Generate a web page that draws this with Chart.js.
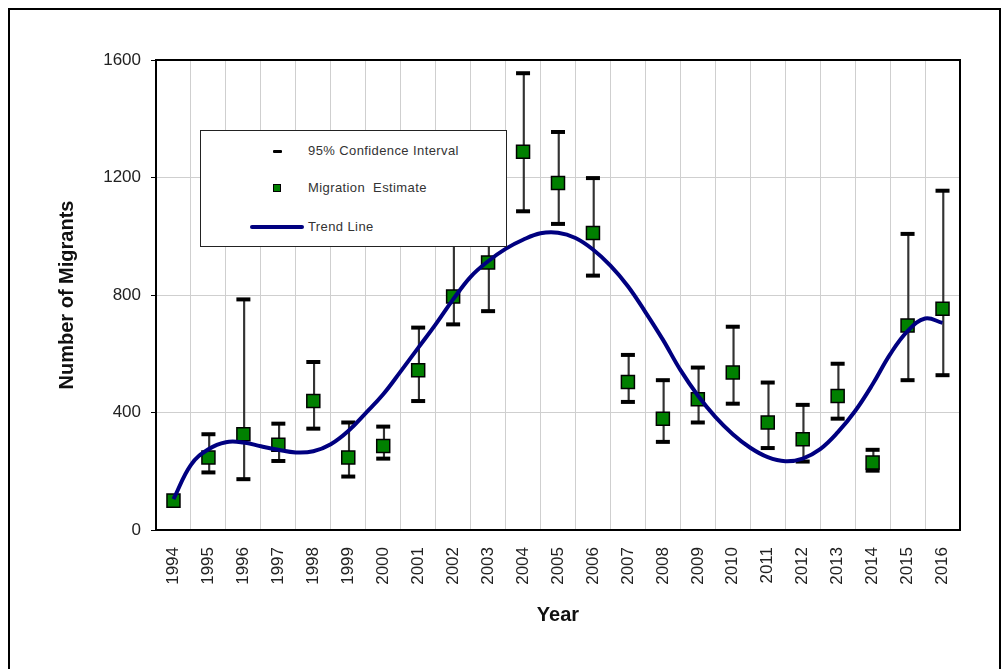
<!DOCTYPE html>
<html lang="en">
<head>
<meta charset="UTF-8" />
<title>Number of Migrants</title>
<script src="https://cdn.jsdelivr.net/npm/chart.js"></script>
<style>
  html, body { margin: 0; padding: 0; background: #fff; overflow: hidden; }
  body { width: 1003px; height: 669px; position: relative; font-family: 'Liberation Sans', Arial, sans-serif; }
  .frame { position: absolute; left: 8px; top: 8px; width: 993px; height: 700px; border: 2px solid #000; box-sizing: border-box; }
  #chart { position: absolute; left: 0; top: 0; }
  .legend { position: absolute; left: 200px; top: 130px; width: 307px; height: 117px; box-sizing: border-box;
            border: 1px solid #222; background: #fff; color: #333; font-size: 13px; letter-spacing: 0.4px; }
  .txt { position: absolute; left: 107px; height: 16px; line-height: 16px; white-space: pre; }
  .dash { position: absolute; left: 72px; top: 19px; width: 9px; height: 3px; background: #000; border-radius: 1px; }
  .square { position: absolute; left: 72px; top: 53px; width: 6px; height: 6px; background: #008000; border: 1px solid #000; }
  .trend { position: absolute; left: 49px; top: 94px; width: 54px; height: 4px; background: #000080; border-radius: 2px; }
</style>
</head>
<body>
  <div class="frame"></div>
  <canvas id="chart" width="1003" height="669"></canvas>
  <div class="legend">
    <div class="dash"></div><div class="txt" style="top:12px">95% Confidence Interval</div>
    <div class="square"></div><div class="txt" style="top:49px">Migration  Estimate</div>
    <div class="trend"></div><div class="txt" style="top:88px">Trend Line</div>
  </div>

  <script>
    const years = ['1994', '1995', '1996', '1997', '1998', '1999', '2000', '2001', '2002', '2003', '2004',
                   '2005', '2006', '2007', '2008', '2009', '2010', '2011', '2012', '2013', '2014', '2015', '2016'];
    const estimate = [100, 247, 326, 290, 439, 247, 286, 544, 795, 911, 1288,
                      1181, 1011, 504, 379, 445, 536, 366, 309, 456, 230, 696, 753];
    const ciLow  = [null, 196, 173, 235, 345, 182, 243, 439, 700, 745, 1085,
                    1042, 866, 436, 300, 366, 430, 279, 233, 379, 202, 510, 527];
    const ciHigh = [null, 326, 785, 362, 572, 366, 352, 689, 1010, 1000, 1555,
                    1355, 1198, 596, 510, 553, 692, 502, 426, 566, 273, 1008, 1155];

    // trend line every half year
    const trendX = [1994, 1994.5, 1995, 1995.5, 1996, 1996.5, 1997, 1997.5, 1998, 1998.5, 1999, 1999.5,
                    2000, 2000.5, 2001, 2001.5, 2002, 2002.5, 2003, 2003.5, 2004, 2004.5, 2005, 2005.5,
                    2006, 2006.5, 2007, 2007.5, 2008, 2008.5, 2009, 2009.5, 2010, 2010.5, 2011, 2011.5,
                    2012, 2012.5, 2013, 2013.5, 2014, 2014.5, 2015, 2015.5, 2016];
    const trendY = [105, 222, 275, 299, 298, 285, 273, 264, 268, 292, 337, 398,
                    462, 540, 620, 700, 785, 862, 915, 957, 988, 1010, 1012, 994,
                    955, 900, 830, 742, 648, 545, 458, 385, 326, 280, 248, 234,
                    243, 275, 332, 405, 496, 598, 677, 720, 705];

    const yTicks = [0, 400, 800, 1200, 1600];

    const font = "'Liberation Sans', Arial, sans-serif";

    const plotFrame = {
      id: 'plotFrame',
      afterDatasetsDraw(chart) {
        const { ctx, chartArea: a } = chart;
        ctx.save();
        ctx.strokeStyle = '#000';
        ctx.lineWidth = 2;
        ctx.strokeRect(a.left, a.top, a.right - a.left, a.bottom - a.top);
        ctx.restore();
      }
    };

    new Chart(document.getElementById('chart'), {
      type: 'bar',
      data: {
        labels: years,
        datasets: [
          {
            type: 'line',
            label: 'Trend Line',
            xAxisID: 'x2',
            data: trendX.map((x, i) => ({ x: x, y: trendY[i] })),
            borderColor: '#000080',
            borderWidth: 4,
            pointRadius: 0,
            tension: 0.4,
            fill: false,
            order: 0
          },
          {
            type: 'line',
            label: 'Migration Estimate',
            data: estimate,
            showLine: false,
            pointStyle: 'rect',
            pointRadius: 9.2,
            pointBackgroundColor: '#008000',
            pointBorderColor: '#000',
            pointBorderWidth: 1.5,
            order: 1
          },
          {
            type: 'line',
            label: 'CI high',
            data: ciHigh,
            showLine: false,
            pointStyle: 'line',
            pointRadius: 7,
            pointBorderColor: '#000',
            pointBorderWidth: 4,
            order: 2
          },
          {
            type: 'line',
            label: 'CI low',
            data: ciLow,
            showLine: false,
            pointStyle: 'line',
            pointRadius: 7,
            pointBorderColor: '#000',
            pointBorderWidth: 4,
            order: 2
          },
          {
            type: 'bar',
            label: '95% Confidence Interval',
            data: ciLow.map((lo, i) => lo == null ? null : [lo, ciHigh[i]]),
            backgroundColor: '#333',
            borderWidth: 0,
            barThickness: 1.5,
            order: 3
          }
        ]
      },
      options: {
        responsive: false,
        animation: false,
        layout: { padding: { left: 50, right: 43, top: 60, bottom: 38 } },
        plugins: {
          legend: { display: false },
          tooltip: { enabled: false }
        },
        scales: {
          x: {
            type: 'category',
            offset: true,
            grid: { offset: true, color: '#cfcfcf', lineWidth: 1, drawTicks: false },
            border: { display: false },
            ticks: {
              autoSkip: false, minRotation: 90, maxRotation: 90, padding: 17,
              color: '#222', font: { family: font, size: 17 }
            },
            title: {
              display: true, text: 'Year', color: '#111',
              font: { family: font, size: 20, weight: 'bold' },
              padding: { top: 0, bottom: 4 }
            },
            afterFit(scale) { scale.height = 101; }
          },
          x2: {
            type: 'linear',
            display: false,
            offset: false,
            grace: 0,
            min: 1993.5,
            max: 2016.5
          },
          y: {
            min: 0,
            max: 1600,
            afterBuildTicks(scale) { scale.ticks = yTicks.map(v => ({ value: v })); },
            grid: { color: '#cfcfcf', lineWidth: 1, tickColor: '#000', tickLength: 5 },
            border: { display: false },
            ticks: {
              padding: 10, color: '#222', font: { family: font, size: 17 },
              callback: v => String(v)
            },
            title: {
              display: true, text: 'Number of Migrants', color: '#111',
              font: { family: font, size: 20, weight: 'bold' },
              padding: { top: 5, bottom: 0 }
            },
            afterFit(scale) { scale.width = 106; }
          }
        }
      },
      plugins: [plotFrame]
    });
  </script>
</body>
</html>
